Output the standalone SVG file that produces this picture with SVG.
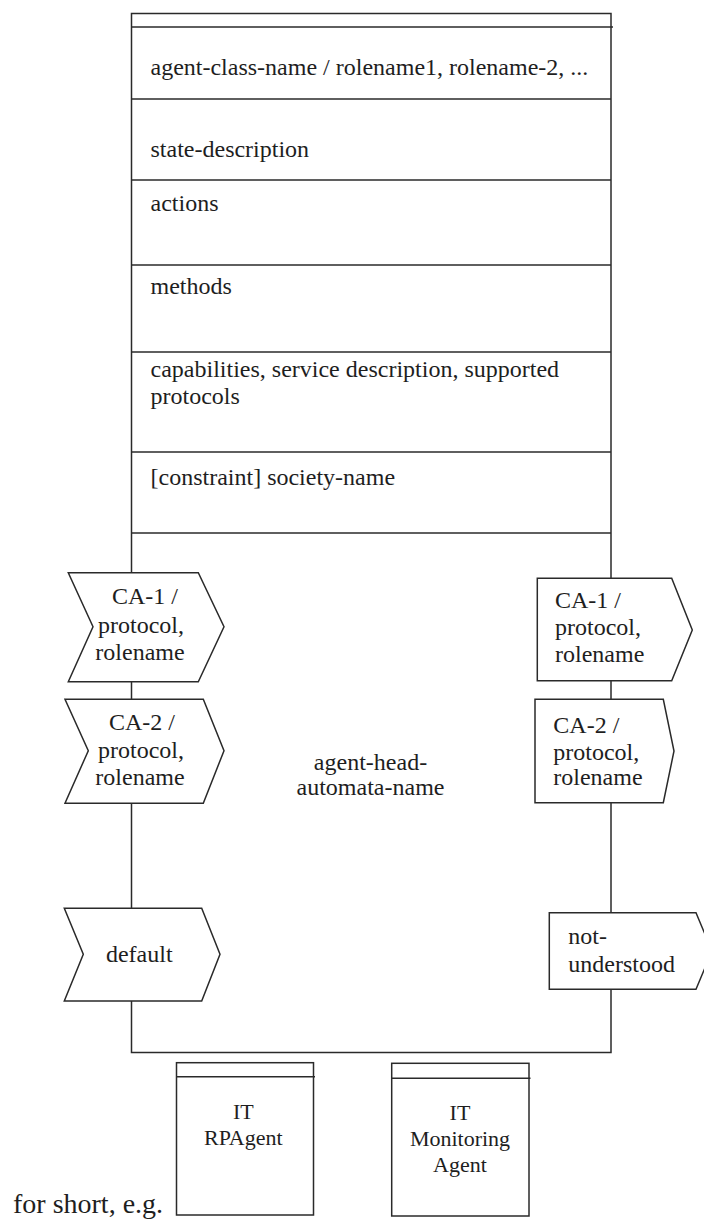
<svg xmlns="http://www.w3.org/2000/svg" width="704" height="1224" viewBox="0 0 704 1224">
<style>
.ln{fill:none;stroke:#2a2a2a;stroke-width:1.5}
.sh{fill:#ffffff;stroke:#2a2a2a;stroke-width:1.5;stroke-linejoin:miter}
text{fill:#1e1e1e;font-size:24px}
.c{text-anchor:middle}
.sm{font-size:22px}
.big{font-size:28px}
</style>
<rect width="704" height="1224" fill="#ffffff"/>
<g font-family="'Liberation Serif', 'DejaVu Serif', serif">
<g id="agent-class">
<rect class="ln" x="131.5" y="13.5" width="479.5" height="1039"/>
<line class="ln" x1="131.5" y1="27" x2="613" y2="27"/>
<line class="ln" x1="131.5" y1="99" x2="611" y2="99"/>
<line class="ln" x1="131.5" y1="180" x2="611" y2="180"/>
<line class="ln" x1="131.5" y1="265" x2="611" y2="265"/>
<line class="ln" x1="131.5" y1="352" x2="611" y2="352"/>
<line class="ln" x1="131.5" y1="452" x2="611" y2="452"/>
<line class="ln" x1="131.5" y1="533" x2="611" y2="533"/>
<text x="150.5" y="75">agent-class-name / rolename1, rolename-2, ...</text>
<text x="150.5" y="157">state-description</text>
<text x="150.5" y="211">actions</text>
<text x="150.5" y="294">methods</text>
<text x="150.5" y="377">capabilities, service description, supported</text>
<text x="150.5" y="403.5">protocols</text>
<text x="150.5" y="485">[constraint] society-name</text>
<text class="c" x="370.5" y="770">agent-head-</text>
<text class="c" x="370.5" y="795">automata-name</text>
</g>
<g id="connectors"/>
<g id="in-ca1">
<polygon class="sh" points="68.3,572.7 198.3,572.7 224,626.7 198.3,681.7 68.3,681.7 93,626.7"/>
<text class="c" x="145" y="603.5">CA-1 /</text>
<text class="c" x="141" y="632.5">protocol,</text>
<text class="c" x="140" y="659.5">rolename</text>
</g>
<g id="in-ca2">
<polygon class="sh" points="65,699.3 203.3,699.3 224,750.7 203.3,803.3 65,803.3 88.3,750.7"/>
<text class="c" x="142" y="730">CA-2 /</text>
<text class="c" x="141" y="758.3">protocol,</text>
<text class="c" x="140" y="785">rolename</text>
</g>
<g id="in-default">
<polygon class="sh" points="64.3,908.3 201.7,908.3 220,954.3 201.7,1001 64.3,1001 83.3,954.3"/>
<text class="c" x="139.3" y="961.7">default</text>
</g>
<g id="out-ca1">
<polygon class="sh" points="537.3,578.3 671.7,578.3 692.3,630 671.7,680.7 537.3,680.7"/>
<text x="555" y="608.3">CA-1 /</text>
<text x="555" y="635">protocol,</text>
<text x="555" y="661.7">rolename</text>
</g>
<g id="out-ca2">
<polygon class="sh" points="535,699.3 663.3,699.3 674,751 663.3,802.7 535,802.7"/>
<text x="553.3" y="733.3">CA-2 /</text>
<text x="553.3" y="760">protocol,</text>
<text x="553.3" y="785">rolename</text>
</g>
<g id="out-not-understood">
<polygon class="sh" points="549.3,912.7 696,912.7 712,951 696,989.3 549.3,989.3"/>
<text x="568.3" y="944.3">not-</text>
<text x="568.3" y="971.7">understood</text>
</g>
<g id="short-label">
<text class="big" x="13" y="1213">for short, e.g.</text>
</g>
<g id="it-rpagent">
<rect class="ln" x="176.5" y="1062.7" width="137" height="152.3"/>
<line class="ln" x1="176.5" y1="1076.7" x2="315" y2="1076.7"/>
<text class="c sm" x="243.3" y="1119.3">IT</text>
<text class="c sm" x="243.3" y="1145">RPAgent</text>
</g>
<g id="it-monitoring">
<rect class="ln" x="391.7" y="1063.3" width="137.3" height="152.7"/>
<line class="ln" x1="391.7" y1="1078.3" x2="530.5" y2="1078.3"/>
<text class="c sm" x="460" y="1120">IT</text>
<text class="c sm" x="460" y="1146">Monitoring</text>
<text class="c sm" x="460" y="1171.7">Agent</text>
</g>
</g>
</svg>
